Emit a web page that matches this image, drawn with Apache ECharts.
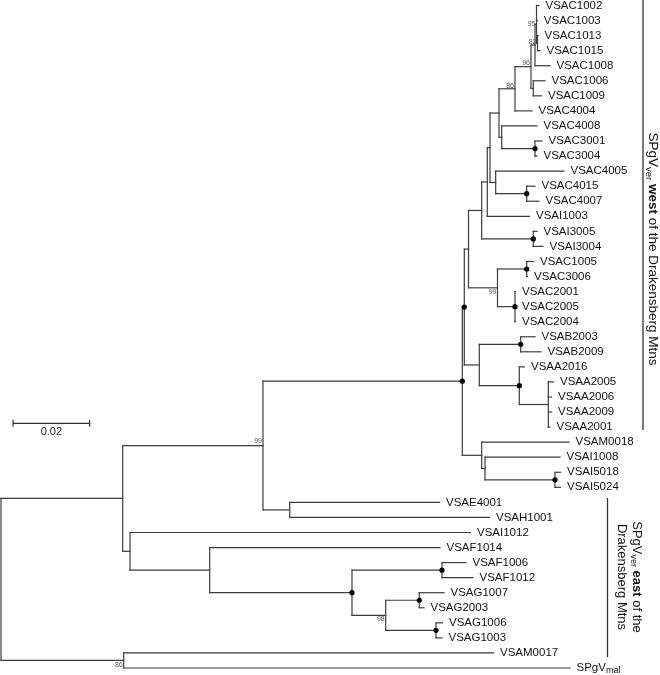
<!DOCTYPE html>
<html><head><meta charset="utf-8">
<script src="https://cdn.jsdelivr.net/npm/echarts@6/dist/echarts.min.js"></script>
<style>html,body{margin:0;padding:0;background:#fff}#c{width:660px;height:675px}</style>
</head><body><div id="c"></div>
<script>
// ---------------- DATA ----------------
// Tips in top-to-bottom order
const tipOrder = ['VSAC1002','VSAC1003','VSAC1013','VSAC1015','VSAC1008','VSAC1006','VSAC1009','VSAC4004',
  'VSAC4008','VSAC3001','VSAC3004','VSAC4005','VSAC4015','VSAC4007','VSAI1003','VSAI3005','VSAI3004',
  'VSAC1005','VSAC3006','VSAC2001','VSAC2005','VSAC2004','VSAB2003','VSAB2009','VSAA2016','VSAA2005',
  'VSAA2006','VSAA2009','VSAA2001','VSAM0018','VSAI1008','VSAI5018','VSAI5024','VSAE4001','VSAH1001',
  'VSAI1012','VSAF1014','VSAF1006','VSAF1012','VSAG1007','VSAG2003','VSAG1006','VSAG1003','VSAM0017','SPgVmal'];

// Internal nodes: [id, parent, distance from root (subst./site)]
const internalNodes = [
  ['root', null, 0], ['IN','root',0.03175], ['OUT','root',0.03201], ['N99','IN',0.06835], ['EAST','IN',0.03366],
  ['W','N99',0.12035], ['EH','N99',0.07532], ['U','W',0.12087], ['NM','W',0.12541], ['T','U',0.12197],
  ['NBA','U',0.12479], ['S','T',0.12541], ['N99b','T',0.12953], ['R','S',0.12687], ['NI3005','S',0.13887],
  ['P','R',0.12758], ['N499','P',0.12992], ['Q','P',0.12906], ['N86','N499',0.13410], ['N501','N499',0.13063],
  ['N96','N86',0.13827], ['NX','N96',0.13932], ['N95','NX',0.13971], ['N82','N95',0.13997], ['N1006','N96',0.13887],
  ['N3001','N501',0.13932], ['N4015','Q',0.13715], ['N1005','N99b',0.13715], ['N2001','N99b',0.13410],
  ['NB','NBA',0.13559], ['NA','NBA',0.13522], ['NAA','NA',0.14279], ['NI','NM',0.12627], ['N5018','NI',0.14454],
  ['E2','EAST',0.05445], ['E3','E2',0.09157], ['F','E3',0.11505], ['G98','E3',0.10037], ['G1','G98',0.10913], ['G2','G98',0.11349]
];

// Tips: [name, parent, distance from root]
const tipNodes = [
  ['VSAC1002','N95',0.14036], ['VSAC1003','N95',0.13992], ['VSAC1013','N82',0.14010], ['VSAC1015','N82',0.14062],
  ['VSAC1008','NX',0.14323], ['VSAC1006','N1006',0.14193], ['VSAC1009','N1006',0.14101], ['VSAC4004','N86',0.13853],
  ['VSAC4008','N501',0.13984], ['VSAC3001','N3001',0.14114], ['VSAC3004','N3001',0.13984], ['VSAC4005','Q',0.14688],
  ['VSAC4015','N4015',0.13932], ['VSAC4007','N4015',0.14036], ['VSAI1003','R',0.13788], ['VSAI3005','NI3005',0.13984],
  ['VSAI3004','NI3005',0.14140], ['VSAC1005','N1005',0.13893], ['VSAC3006','N1005',0.13736], ['VSAC2001','N2001',0.13423],
  ['VSAC2005','N2001',0.13423], ['VSAC2004','N2001',0.13423], ['VSAB2003','NB',0.13932], ['VSAB2009','NB',0.14088],
  ['VSAA2016','NA',0.13658], ['VSAA2005','NAA',0.14414], ['VSAA2006','NAA',0.14362], ['VSAA2009','NAA',0.14362],
  ['VSAA2001','NAA',0.14323], ['VSAM0018','NM',0.14819], ['VSAI1008','NI',0.14584], ['VSAI5018','N5018',0.14597],
  ['VSAI5024','N5018',0.14597], ['VSAE4001','EH',0.11440], ['VSAH1001','EH',0.12745], ['VSAI1012','EAST',0.12249],
  ['VSAF1014','E2',0.11453], ['VSAF1006','F',0.12131], ['VSAF1012','F',0.12314], ['VSAG1007','G1',0.11558],
  ['VSAG2003','G1',0.11036], ['VSAG1006','G2',0.11518], ['VSAG1003','G2',0.11505], ['VSAM0017','OUT',0.12849],
  ['SPgVmal','OUT',0.14845]
];

// Bootstrap support values printed at nodes
const supportValues = [['N95',95],['N82',82],['N96',96],['N86',86],['N99b',99],['N99',99],['G98',98],['OUT',86]];
// Nodes marked with a filled circle
const markedNodes = ['N3001','N4015','NI3005','N1005','N2001','U','W','NB','NA','N5018','F','E3','G1','G2'];
const scaleBarLength = 0.02;
const groupWest = ['SPgV','ver',' west',' of the Drakensberg Mtns'];
const groupEast1 = ['SPgV','ver',' east',' of the'];
const groupEast2 = 'Drakensberg Mtns';

// ---------------- LAYOUT / STYLE ----------------
const FONT = '"Liberation Sans", Arial, Helvetica, sans-serif';
const LINE = '#3c3c3c', LW = 1.2;
const PX_PER_UNIT = 3833, X_MAX = 0.17;
const supportDy = {N95:0, N82:-1, N96:-3.5, N86:-3, N99b:4.5, N99:-4, G98:3.5, OUT:4.5};

const info = {};
internalNodes.concat(tipNodes).forEach(([n,p,d]) => info[n] = {name:n, parent:p, depth:d, children:[]});
internalNodes.concat(tipNodes).forEach(([n,p]) => { if (p) info[p].children.push(n); });
tipOrder.forEach((n,i) => info[n].y = i);
function setY(n){ const o = info[n]; if (!o.children.length) return o.y;
  const ys = o.children.map(setY); o.ymin = Math.min(...ys); o.ymax = Math.max(...ys); o.y = (o.ymin + o.ymax)/2; return o.y; }
setY('root');
const nodeList = Object.values(info);
const supMap = Object.fromEntries(supportValues);
const marked = new Set(markedNodes);

const ctx = document.createElement('canvas').getContext('2d');
function tw(t, size, weight){ ctx.font = (weight||'normal') + ' ' + size + 'px ' + FONT; return ctx.measureText(t).width; }

function renderItem(params, api) {
  const nd = nodeList[params.dataIndex];
  const ch = [];
  const p = api.coord([nd.depth, nd.y]);
  if (nd.parent) {
    const pp = api.coord([info[nd.parent].depth, nd.y]);
    ch.push({type:'line', shape:{x1:pp[0], y1:p[1], x2:p[0], y2:p[1]}, style:{stroke:LINE, lineWidth:LW, lineCap:'square'}});
  }
  if (nd.children.length) {
    const a = api.coord([nd.depth, nd.ymin]), b = api.coord([nd.depth, nd.ymax]);
    ch.push({type:'line', shape:{x1:a[0], y1:a[1], x2:b[0], y2:b[1]}, style:{stroke:LINE, lineWidth:LW, lineCap:'square'}});
  } else {
    const tx = p[0] + 6.5;
    if (nd.name === 'SPgVmal') {
      ch.push({type:'text', x:tx, y:p[1], style:{text:'SPgV', fontSize:11.5, fontFamily:FONT, fill:'#111', align:'left', verticalAlign:'middle'}});
      ch.push({type:'text', x:tx + tw('SPgV',11.5), y:p[1]+3, style:{text:'mal', fontSize:9, fontFamily:FONT, fill:'#111', align:'left', verticalAlign:'middle'}});
    } else {
      ch.push({type:'text', x:tx, y:p[1], style:{text:nd.name, fontSize:11.5, fontFamily:FONT, fill:'#111', align:'left', verticalAlign:'middle'}});
    }
  }
  if (marked.has(nd.name)) ch.push({type:'circle', shape:{cx:p[0], cy:p[1], r:2.6}, style:{fill:'#000'}});
  if (supMap[nd.name] !== undefined) {
    ch.push({type:'text', x:p[0]-1, y:p[1] + (supportDy[nd.name]||0), style:{text:String(supMap[nd.name]), fontSize:7, fontFamily:FONT, fill:'#555', align:'right', verticalAlign:'middle'}});
  }
  return {type:'group', children:ch};
}

function scaleBarItem(params, api) {
  const len = api.size([scaleBarLength, 0])[0];
  const x0 = 13, y0 = 423.3;
  const st = {stroke:'#333', lineWidth:1.2};
  return {type:'group', children:[
    {type:'line', shape:{x1:x0, y1:y0, x2:x0+len, y2:y0}, style:st},
    {type:'line', shape:{x1:x0, y1:y0-3.5, x2:x0, y2:y0+3.5}, style:st},
    {type:'line', shape:{x1:x0+len, y1:y0-3.5, x2:x0+len, y2:y0+3.5}, style:st},
    {type:'text', x:x0+len/2, y:y0+8.5, style:{text:String(scaleBarLength), fontSize:11, fontFamily:FONT, fill:'#222', align:'center', verticalAlign:'middle'}}
  ]};
}

function runGroup(parts, size, subSize, y) {
  // parts: [main, sub, bold, rest]
  const els = []; let x = 0;
  const w0 = tw(parts[0], size), w1 = tw(parts[1], subSize), w2 = tw(parts[2], size, 'bold'), w3 = tw(parts[3], size);
  const total = w0 + w1 + w2 + w3; x = -total/2;
  els.push({type:'text', x:x, y:y, style:{text:parts[0], fontSize:size, fontFamily:FONT, fill:'#111', align:'left', verticalAlign:'middle'}}); x += w0;
  els.push({type:'text', x:x, y:y+3.5, style:{text:parts[1], fontSize:subSize, fontFamily:FONT, fill:'#111', align:'left', verticalAlign:'middle'}}); x += w1;
  els.push({type:'text', x:x, y:y, style:{text:parts[2], fontSize:size, fontWeight:'bold', fontFamily:FONT, fill:'#111', align:'left', verticalAlign:'middle'}}); x += w2;
  els.push({type:'text', x:x, y:y, style:{text:parts[3], fontSize:size, fontFamily:FONT, fill:'#111', align:'left', verticalAlign:'middle'}});
  return els;
}

const chart = echarts.init(document.getElementById('c'), null, {renderer:'canvas'});
chart.setOption({
  animation:false,
  backgroundColor:'#fff',
  grid:{left:1, right:660-1-X_MAX*PX_PER_UNIT, top:5.5, bottom:7},
  xAxis:{type:'value', min:0, max:X_MAX, show:false},
  yAxis:{type:'value', min:0, max:tipOrder.length-1, inverse:true, show:false},
  series:[
    {type:'custom', renderItem:renderItem, clip:false, data:nodeList.map(n => [n.depth, n.y]), encode:{x:0, y:1}},
    {type:'custom', renderItem:scaleBarItem, clip:false, data:[[0,0]], encode:{x:0, y:1}}
  ],
  graphic:{elements:[
    {type:'line', shape:{x1:643, y1:0, x2:643, y2:430}, style:{stroke:'#333', lineWidth:1.3}},
    {type:'line', shape:{x1:607.5, y1:498, x2:607.5, y2:657}, style:{stroke:'#333', lineWidth:1.3}},
    {type:'group', x:652.5, y:249, rotation:-Math.PI/2, children: runGroup(groupWest, 13.5, 9.5, 0)},
    {type:'group', x:629.2, y:577, rotation:-Math.PI/2, children:
      runGroup(groupEast1, 13, 9, -7.5).concat([
        {type:'text', x:0, y:7.5, style:{text:groupEast2, fontSize:13, fontFamily:FONT, fill:'#111', align:'center', verticalAlign:'middle'}}
      ])}
  ]}
});
</script></body></html>
